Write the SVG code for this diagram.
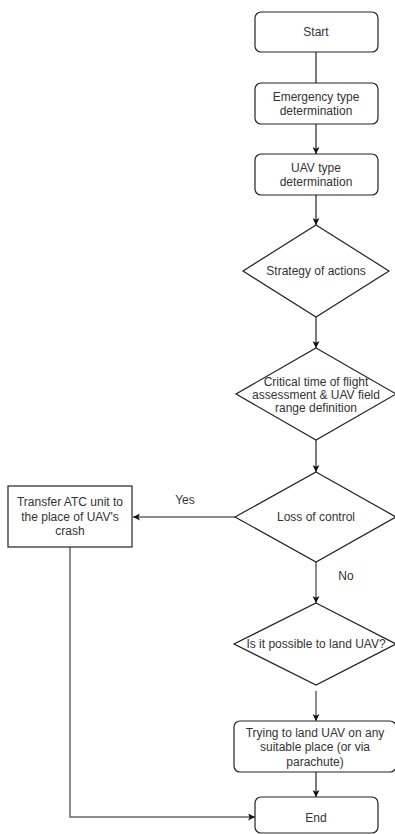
<svg xmlns="http://www.w3.org/2000/svg" width="395" height="834" viewBox="0 0 395 834">
<defs>
<style>
.n{fill:#fff;stroke:#222;stroke-width:1.2}
.t{font-family:"Liberation Sans",Arial,sans-serif;font-size:12px;fill:#333;text-anchor:middle}
.c{fill:none;stroke:#222;stroke-width:1.2}
.g{fill:none;stroke:#666;stroke-width:1.5}
</style>
<marker id="a" viewBox="0 0 10 10" refX="10" refY="5" markerWidth="7" markerHeight="7" markerUnits="userSpaceOnUse" orient="auto"><path d="M0,0 L10,5 L0,10 L2.5,5 Z" fill="#111"/></marker>
</defs>
<rect width="395" height="834" fill="#fff"/>
<g id="connectors">
<line class="c" x1="316" y1="52" x2="316" y2="83"/>
<line class="c" x1="316" y1="124" x2="316" y2="154" marker-end="url(#a)"/>
<line class="c" x1="316" y1="195" x2="316" y2="225" marker-end="url(#a)"/>
<line class="c" x1="316" y1="317" x2="316" y2="348" marker-end="url(#a)"/>
<line class="c" x1="316" y1="440" x2="316" y2="472" marker-end="url(#a)"/>
<line class="g" x1="235" y1="517" x2="133" y2="517" marker-end="url(#a)"/>
<line class="g" x1="316" y1="562" x2="316" y2="603" marker-end="url(#a)"/>
<line class="g" x1="316" y1="691" x2="316" y2="721" marker-end="url(#a)"/>
<line class="c" x1="316" y1="772" x2="316" y2="797" marker-end="url(#a)"/>
<polyline class="g" points="70,547 70,817 255,817" marker-end="url(#a)"/>
<text class="t" x="185" y="504">Yes</text>
<text class="t" x="346" y="580">No</text>
</g>
<g id="start"><rect class="n" x="255" y="12" width="123" height="40" rx="6"/><text class="t" x="316" y="36">Start</text></g>
<g id="emergency"><rect class="n" x="255" y="83" width="123" height="41" rx="6"/><text class="t" x="316" y="101">Emergency type</text><text class="t" x="316" y="115">determination</text></g>
<g id="uavtype"><rect class="n" x="255" y="154" width="123" height="41" rx="6"/><text class="t" x="316" y="172">UAV type</text><text class="t" x="316" y="186">determination</text></g>
<g id="strategy"><polygon class="n" points="316,225 389,271 316,317 243,271"/><text class="t" x="316" y="275">Strategy of actions</text></g>
<g id="critical"><polygon class="n" points="316,348 396,394 316,440 236,394"/><text class="t" x="316" y="386">Critical time of flight</text><text class="t" x="316" y="399">assessment &amp; UAV field</text><text class="t" x="316" y="412">range definition</text></g>
<g id="loss"><polygon class="n" points="316,472 396,517 316,562 235,517"/><text class="t" x="316" y="521">Loss of control</text></g>
<g id="transfer"><rect class="n" x="8" y="486" width="124" height="61"/><text class="t" x="70" y="506">Transfer ATC unit to</text><text class="t" x="70" y="521">the place of UAV's</text><text class="t" x="70" y="535">crash</text></g>
<g id="possible"><polygon class="n" points="316,603 396,644 316,685 234,644"/><text class="t" x="316" y="648">Is it possible to land UAV?</text></g>
<g id="trying"><rect class="n" x="234" y="721" width="162" height="51" rx="6"/><text class="t" x="315" y="737">Trying to land UAV on any</text><text class="t" x="315" y="751">suitable place (or via</text><text class="t" x="315" y="766">parachute)</text></g>
<g id="end"><rect class="n" x="255" y="797" width="123" height="36" rx="6"/><text class="t" x="316" y="822">End</text></g>
</svg>
